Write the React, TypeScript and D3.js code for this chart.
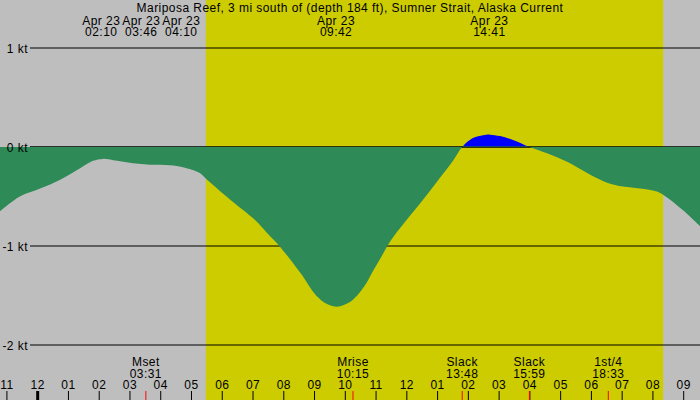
import React from 'react';
import * as d3 from 'd3';

const WIDTH = 700;
const HEIGHT = 400;

// hours since midnight Apr 23 (negative = Apr 22)
const START_HOUR = -1.225;
const END_HOUR = 21.53;

const TITLE = 'Mariposa Reef, 3 mi south of (depth 184 ft), Sumner Strait, Alaska Current';

const flowHours = [
  -1.23, -0.58, 0.08, 0.73, 1.38, 1.8, 2.12, 2.58, 3.1, 3.65, 4.3, 4.72, 5.28, 5.47, 6.25,
  7.065, 7.45, 7.855, 8.55, 8.75, 8.91, 9.12, 9.3, 9.72, 10.15, 10.32, 10.53, 10.7, 10.86, 11.1,
  11.49, 11.88, 12.43, 12.98, 13.5, 13.8, 14.15, 14.48, 14.7, 15.03, 15.45, 15.98, 16.56, 17.21, 17.96,
  18.51, 19.03, 19.58, 20.13, 20.46, 20.98, 21.53,
];
const flowKnots = [
  -0.65, -0.5, -0.42, -0.33, -0.215, -0.14, -0.12, -0.14, -0.165, -0.18, -0.185, -0.205, -0.265, -0.32, -0.53,
  -0.737, -0.866, -1.0, -1.276, -1.368, -1.444, -1.521, -1.568, -1.613, -1.566, -1.521, -1.444, -1.368, -1.276, -1.147,
  -0.94, -0.78, -0.57, -0.35, -0.14, 0, 0.09, 0.118, 0.125, 0.11, 0.07, 0, -0.064, -0.15, -0.28,
  -0.36, -0.4, -0.42, -0.45, -0.51, -0.64, -0.8,
];

const gridKnots = [1, 0, -1, -2];

const sunrise = '05:28';
const sunset = '20:20';

const topEventDate = 'Apr 23';
const topEventTimes = ['02:10', '03:46', '04:10', '09:42', '14:41'];

const bottomEventNames = ['Mset', 'Mrise', 'Slack', 'Slack', '1st/4'];
const bottomEventTimes = ['03:31', '10:15', '13:48', '15:59', '18:33'];

const toHours = (t: string) => {
  const [h, m] = t.split(':').map(Number);
  return h + m / 60;
};

const hourLabel = (h: number) => {
  const h12 = ((h % 12) + 12) % 12 || 12;
  return String(h12).padStart(2, '0');
};

// push overlapping labels apart, keeping each cluster centred on its original mean
const spreadLabels = (xs: number[], gap: number) => {
  const groups: { xs: number[] }[] = [];
  xs.forEach(x => {
    groups.push({ xs: [x] });
    let merged = true;
    while (merged && groups.length > 1) {
      merged = false;
      const b = groups[groups.length - 1];
      const a = groups[groups.length - 2];
      const aMean = d3.mean(a.xs)!;
      const bMean = d3.mean(b.xs)!;
      const aRight = aMean + ((a.xs.length - 1) * gap) / 2;
      const bLeft = bMean - ((b.xs.length - 1) * gap) / 2;
      if (bLeft - aRight < gap) {
        groups.splice(groups.length - 2, 2, { xs: [...a.xs, ...b.xs] });
        merged = true;
      }
    }
  });
  return groups.flatMap(g => {
    const m = d3.mean(g.xs)!;
    return g.xs.map((_, i) => m + (i - (g.xs.length - 1) / 2) * gap);
  });
};

const FONT = '"Liberation Sans", Arial, sans-serif';

export default function App() {
  const x = d3.scaleLinear().domain([START_HOUR, END_HOUR]).range([0, WIDTH]);
  const y = d3.scaleLinear().domain([-2, 1]).range([345, 48]);
  const y0 = y(0);

  const points = flowHours.map((h, i) => [h, flowKnots[i]] as [number, number]);
  const area = d3
    .area<[number, number]>()
    .x(d => x(d[0]))
    .y0(y0)
    .y1(d => y(d[1]))
    .curve(d3.curveCatmullRom.alpha(0.5));
  const areaPath = area(points) ?? '';

  const hours = d3.range(Math.ceil(START_HOUR), Math.floor(END_HOUR) + 1);
  const topXs = spreadLabels(topEventTimes.map(t => x(toHours(t))), 40);

  return (
    <svg
      width={WIDTH}
      height={HEIGHT}
      style={{ position: 'absolute', left: 0, top: 0 }}
      fontFamily={FONT}
      fontSize={12}
      letterSpacing={0.45}
    >
      <defs>
        <clipPath id="above">
          <rect x={0} y={0} width={WIDTH} height={y0} />
        </clipPath>
        <clipPath id="below">
          <rect x={0} y={y0 - 0.5} width={WIDTH} height={HEIGHT - y0} />
        </clipPath>
      </defs>

      <rect x={0} y={0} width={WIDTH} height={HEIGHT} fill="#bebebe" />
      <rect
        x={x(toHours(sunrise))}
        y={0}
        width={x(toHours(sunset)) - x(toHours(sunrise))}
        height={HEIGHT}
        fill="#cccc00"
      />

      {gridKnots.map(k => (
        <line key={k} x1={30} x2={WIDTH} y1={y(k)} y2={y(k)} stroke="#000" strokeWidth={1} />
      ))}

      <path d={areaPath} fill="#0000ff" clipPath="url(#above)" />
      <line x1={30} x2={WIDTH} y1={y0} y2={y0} stroke="#000" strokeWidth={1} />
      <path d={areaPath} fill="#2e8b57" clipPath="url(#below)" />

      {gridKnots.map(k => (
        <text key={k} x={28} y={y(k) + 4.5} textAnchor="end" fill="#000">
          {`${k} kt`}
        </text>
      ))}

      <text x={WIDTH / 2} y={11.5} textAnchor="middle" fill="#000">
        {TITLE}
      </text>
      {topEventTimes.map((t, i) => (
        <g key={t} textAnchor="middle" fill="#000">
          <text x={topXs[i]} y={24.5}>{topEventDate}</text>
          <text x={topXs[i]} y={35.5}>{t}</text>
        </g>
      ))}

      {bottomEventTimes.map((t, i) => (
        <g key={t} textAnchor="middle" fill="#000">
          <text x={x(toHours(t))} y={365.5}>{bottomEventNames[i]}</text>
          <text x={x(toHours(t))} y={377.5}>{t}</text>
        </g>
      ))}

      {hours.map(h => (
        <g key={h}>
          <text x={x(h)} y={389} textAnchor="middle" fill="#000">
            {hourLabel(h)}
          </text>
          <line
            x1={x(h)}
            x2={x(h)}
            y1={391}
            y2={HEIGHT}
            stroke="#000"
            strokeWidth={h === 0 ? 3 : 1}
          />
        </g>
      ))}
      {bottomEventTimes.map(t => (
        <line
          key={t}
          x1={x(toHours(t))}
          x2={x(toHours(t))}
          y1={391}
          y2={HEIGHT}
          stroke="#ff0000"
          strokeWidth={1}
        />
      ))}
    </svg>
  );
}
